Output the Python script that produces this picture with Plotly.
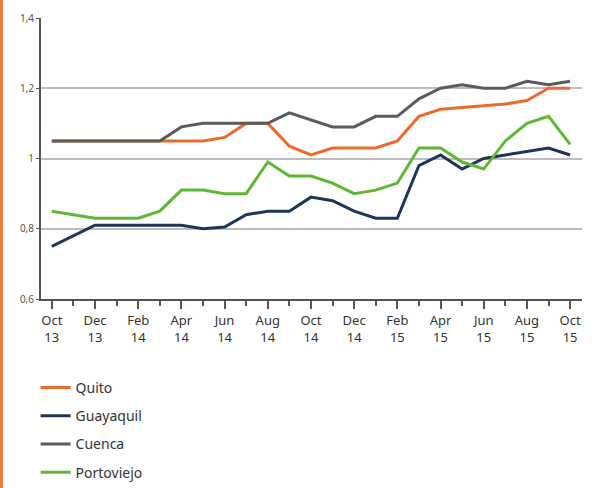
import plotly.graph_objects as go

months = ["Oct 13", "Nov 13", "Dec 13", "Jan 14", "Feb 14", "Mar 14", "Apr 14", "May 14", "Jun 14",
          "Jul 14", "Aug 14", "Sep 14", "Oct 14", "Nov 14", "Dec 14", "Jan 15", "Feb 15", "Mar 15",
          "Apr 15", "May 15", "Jun 15", "Jul 15", "Aug 15", "Sep 15", "Oct 15"]

quito = [1.05, 1.05, 1.05, 1.05, 1.05, 1.05, 1.05, 1.05, 1.06, 1.10, 1.10, 1.035, 1.01, 1.03, 1.03,
         1.03, 1.05, 1.12, 1.14, 1.145, 1.15, 1.155, 1.165, 1.20, 1.20]
guayaquil = [0.75, 0.78, 0.81, 0.81, 0.81, 0.81, 0.81, 0.80, 0.805, 0.84, 0.85, 0.85, 0.89, 0.88, 0.85,
             0.83, 0.83, 0.98, 1.01, 0.97, 1.00, 1.01, 1.02, 1.03, 1.01]
cuenca = [1.05, 1.05, 1.05, 1.05, 1.05, 1.05, 1.09, 1.10, 1.10, 1.10, 1.10, 1.13, 1.11, 1.09, 1.09,
          1.12, 1.12, 1.17, 1.20, 1.21, 1.20, 1.20, 1.22, 1.21, 1.22]
portoviejo = [0.85, 0.84, 0.83, 0.83, 0.83, 0.85, 0.91, 0.91, 0.90, 0.90, 0.99, 0.95, 0.95, 0.93, 0.90,
              0.91, 0.93, 1.03, 1.03, 0.99, 0.97, 1.05, 1.10, 1.12, 1.04]

tick_idx = list(range(0, 25, 2))
tick_text = [months[i].replace(" ", "<br>") for i in tick_idx]
y_ticks = [0.6, 0.8, 1.0, 1.2, 1.4]
y_labels = ["0,6", "0,8", "1", "1,2", "1,4"]

series = [("Quito", quito, "#ee6a2c"), ("Guayaquil", guayaquil, "#1d3557"),
          ("Cuenca", cuenca, "#5b5b5f"), ("Portoviejo", portoviejo, "#5fb833")]

x = list(range(len(months)))
fig = go.Figure()
order = {"Quito": 1, "Guayaquil": 2, "Cuenca": 3, "Portoviejo": 4}
for name, vals, col in series:
    fig.add_trace(go.Scatter(x=x, y=vals, mode="lines", name=name,
                             line=dict(color=col, width=3),
                             legendgroup=name, legendrank=order[name]))

PW, PH = 541, 281
fig.update_layout(
    width=596, height=488,
    margin=dict(l=41, r=14, t=18, b=189, autoexpand=False),
    paper_bgcolor="white", plot_bgcolor="white",
    font=dict(family="Noto Sans, Open Sans, sans-serif", color="#333333"),
    showlegend=True,
    legend=dict(x=-0.01, y=-(372 - 299) / PH, xanchor="left", yanchor="top",
                orientation="v", traceorder="grouped", tracegroupgap=7,
                font=dict(size=14, color="#333333"), itemwidth=30,
                bgcolor="rgba(0,0,0,0)"),
    xaxis=dict(range=[-0.5, 24.55], tickmode="array", tickvals=tick_idx, ticktext=tick_text,
               showgrid=False, zeroline=False, showline=True, linecolor="#555555", linewidth=2,
               ticks="outside", ticklen=8, tickwidth=1.5, tickcolor="#555555",
               tickfont=dict(size=13, color="#333333"),
               minor=dict(tickmode="linear", tick0=0, dtick=1, ticks="outside", ticklen=5,
                          tickwidth=1.5, tickcolor="#555555", showgrid=False)),
    yaxis=dict(range=[0.6, 1.4], tickmode="array", tickvals=y_ticks, ticktext=y_labels,
               showgrid=True, gridcolor="#bdbdbd", gridwidth=2, zeroline=False,
               showline=True, linecolor="#555555", linewidth=2,
               ticks="outside", ticklen=3, tickcolor="#555555",
               tickfont=dict(size=10, color="#555555")),
)

fig.add_shape(type="rect", xref="paper", yref="paper",
              x0=-41 / PW, x1=-38 / PW, y0=-189 / PH, y1=(PH + 18) / PH,
              fillcolor="#ee7a3c", line=dict(width=0), layer="above")

fig.write_html("out.html", config={"displayModeBar": False},
               post_script="document.body.style.margin='0';document.body.style.padding='0';")
